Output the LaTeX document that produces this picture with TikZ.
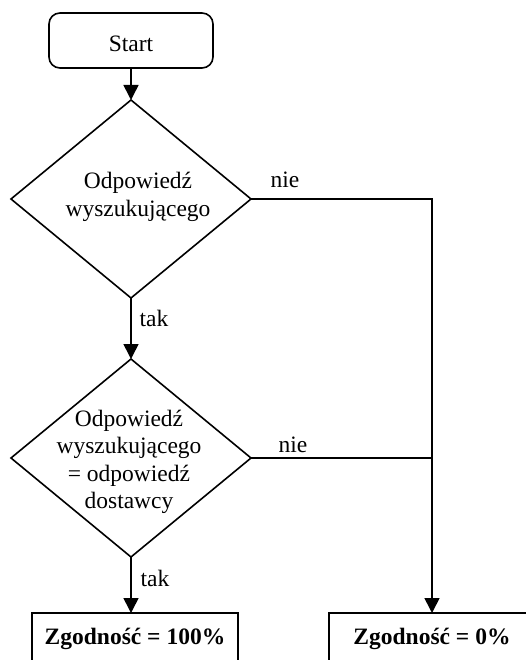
\documentclass[tikz,border=0pt]{standalone}
\usepackage{fontspec}
\setmainfont{Liberation Serif}
\usetikzlibrary{shapes.geometric,arrows.meta}
\begin{document}
\begin{tikzpicture}[x=1pt,y=-1pt,
  every node/.style={font=\fontsize{23.5}{27.5}\selectfont},
  ln/.style={line width=1.6pt},
  arr/.style={ln,-{Triangle[width=15pt,length=15pt]}},
  startbox/.style={draw,ln,rounded corners=11pt,minimum width=164pt,minimum height=55pt,inner sep=0pt,text height=22pt,text depth=0pt},
  decbox/.style={draw,ln,diamond,minimum width=240pt,minimum height=198pt,inner sep=0pt,outer sep=0pt},
  endbox/.style={draw,ln,rectangle,minimum width=206pt,minimum height=52pt,inner sep=0pt,outer sep=0pt,font=\fontsize{23.5}{27.5}\selectfont\bfseries},
  txt/.style={align=center,inner sep=0pt},
  lbl/.style={inner sep=0pt}]
\useasboundingbox (0,0) rectangle (526,660);
\node[startbox] (start) at (131,40.5) {Start};
\node[decbox] (d1) at (131,199) {};
\node[txt] (d1t) at (138,197) {Odpowiedź\\wyszukującego};
\node[decbox] (d2) at (131,458) {};
\node[txt] (d2t) at (129,462) {Odpowiedź\\wyszukującego\\= odpowiedź\\dostawcy};
\node[endbox] (z1) at (135,639) {Zgodność = 100\%};
\node[endbox] (z0) at (432,639) {Zgodność = 0\%};
\coordinate (c1) at (432,199);
\draw[arr] (start) -- (d1.north);
\draw[arr] (d1.south) -- (d2.north);
\draw[arr] (d1.east) -- (c1) -- (z0.north);
\draw[ln] (d2.east) -- (c1 |- d2.east);
\draw[arr] (d2.south) -- (d2.south |- z1.north);
\node[lbl] (n1) at (285,180) {nie};
\node[lbl] (n2) at (293,445) {nie};
\node[lbl] (t1) at (154,318) {tak};
\node[lbl] (t2) at (155,578) {tak};
\end{tikzpicture}
\end{document}
